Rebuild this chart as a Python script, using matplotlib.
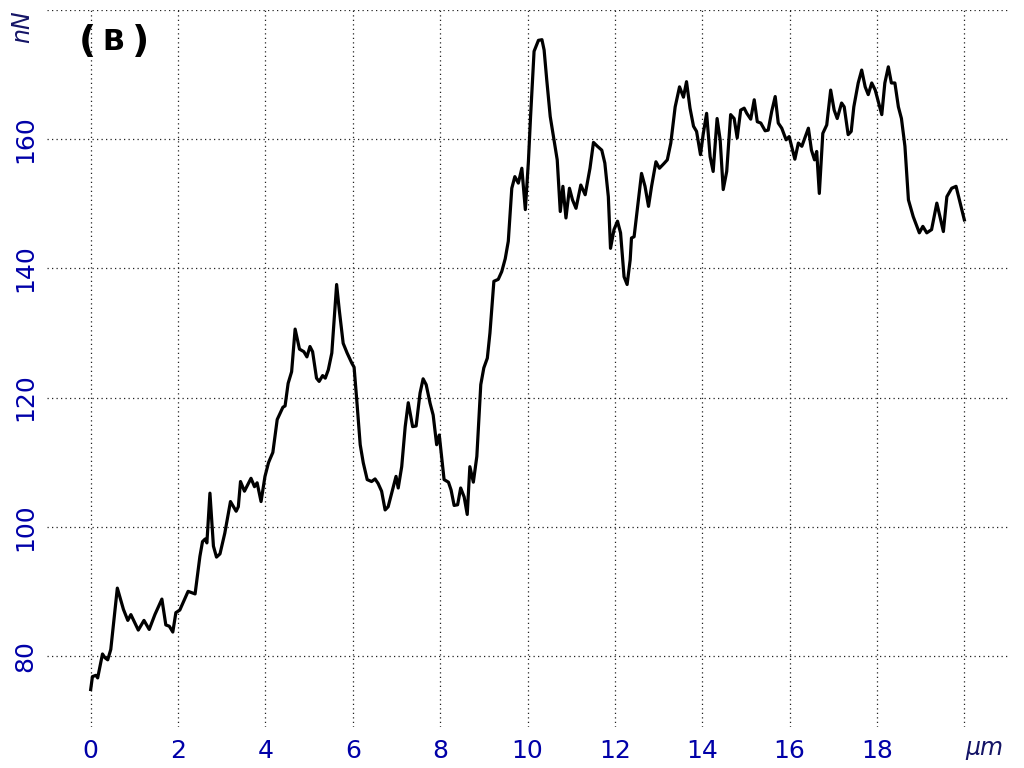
import matplotlib
matplotlib.use('Agg')
import matplotlib.pyplot as plt
import numpy as np

# position along the scan (um) and force (nN)
x_um = [0.00, 0.04, 0.12, 0.16, 0.27, 0.33, 0.39, 0.46, 0.61, 0.75, 0.85, 0.92,
        1.09, 1.22, 1.34, 1.47, 1.63, 1.72, 1.80, 1.88, 1.95, 2.04, 2.23, 2.39,
        2.50, 2.56, 2.62, 2.66, 2.73, 2.77, 2.81, 2.88, 2.96, 3.07, 3.20, 3.33,
        3.38, 3.43, 3.52, 3.67, 3.75, 3.81, 3.90, 3.99, 4.07, 4.10, 4.17, 4.27,
        4.40, 4.45, 4.52, 4.60, 4.68, 4.78, 4.88, 4.95, 5.02, 5.08, 5.17, 5.23,
        5.31, 5.37, 5.44, 5.52, 5.63, 5.69, 5.78, 5.87, 5.98, 6.03, 6.09, 6.17,
        6.24, 6.33, 6.43, 6.51, 6.58, 6.66, 6.74, 6.81, 6.93, 6.99, 7.04, 7.12,
        7.20, 7.27, 7.37, 7.45, 7.54, 7.61, 7.68, 7.77, 7.84, 7.92, 7.98, 8.04,
        8.09, 8.19, 8.25, 8.32, 8.40, 8.47, 8.55, 8.62, 8.68, 8.76, 8.84, 8.93,
        9.00, 9.08, 9.14, 9.23, 9.33, 9.41, 9.49, 9.56, 9.64, 9.71, 9.79, 9.87,
        9.92, 9.95, 10.02, 10.07, 10.15, 10.25, 10.33, 10.38, 10.44, 10.52, 10.63, 10.68,
        10.75, 10.81, 10.88, 10.96, 11.03, 11.11, 11.22, 11.32, 11.43, 11.51, 11.60, 11.70,
        11.77, 11.85, 11.90, 11.98, 12.06, 12.13, 12.21, 12.28, 12.35, 12.38, 12.44, 12.54,
        12.61, 12.69, 12.77, 12.84, 12.94, 13.02, 13.12, 13.20, 13.28, 13.38, 13.48, 13.57,
        13.64, 13.72, 13.80, 13.87, 13.96, 14.02, 14.10, 14.18, 14.25, 14.34, 14.41, 14.48,
        14.56, 14.65, 14.73, 14.80, 14.88, 14.96, 15.02, 15.11, 15.19, 15.26, 15.34, 15.44,
        15.51, 15.59, 15.67, 15.74, 15.82, 15.92, 15.99, 16.12, 16.20, 16.28, 16.35, 16.43,
        16.50, 16.57, 16.62, 16.68, 16.76, 16.85, 16.94, 17.02, 17.09, 17.19, 17.25, 17.34,
        17.41, 17.47, 17.57, 17.65, 17.73, 17.80, 17.88, 17.96, 18.03, 18.11, 18.18, 18.26,
        18.33, 18.41, 18.49, 18.56, 18.64, 18.72, 18.83, 18.97, 19.05, 19.14, 19.25, 19.37,
        19.52, 19.60, 19.71, 19.81, 20.00]

force_nN = [74.8, 76.8, 77.0, 76.6, 80.3, 79.7, 79.4, 81.0, 90.5, 87.2, 85.5, 86.4,
            84.0, 85.5, 84.1, 86.4, 88.8, 84.8, 84.6, 83.7, 86.7, 87.1, 90.0, 89.6,
            95.4, 97.7, 98.1, 97.5, 105.2, 101.1, 97.0, 95.3, 95.8, 99.0, 103.9, 102.4,
            103.1, 107.0, 105.5, 107.5, 106.2, 106.8, 103.9, 107.8, 109.9, 110.4, 111.5, 116.6,
            118.5, 118.7, 122.2, 124.0, 130.6, 127.5, 127.1, 126.3, 127.9, 127.1, 123.0, 122.5,
            123.4, 123.0, 124.3, 126.9, 137.5, 133.6, 128.4, 126.9, 125.3, 124.7, 119.7, 112.7,
            109.9, 107.3, 107.0, 107.4, 106.7, 105.5, 102.6, 103.1, 106.2, 107.8, 106.0, 109.3,
            115.5, 119.2, 115.5, 115.6, 120.7, 122.9, 122.0, 119.1, 117.3, 112.7, 114.2, 110.4,
            107.3, 106.9, 105.7, 103.3, 103.4, 106.0, 104.6, 101.9, 109.3, 106.9, 110.9, 122.0,
            124.6, 126.1, 130.0, 138.0, 138.3, 139.5, 141.5, 144.2, 152.4, 154.2, 153.2, 155.5,
            151.6, 149.1, 156.5, 163.5, 173.6, 175.3, 175.4, 173.8, 169.2, 163.5, 158.9, 156.8,
            148.8, 152.7, 147.8, 152.4, 150.6, 149.3, 152.9, 151.4, 155.5, 159.5, 158.9, 158.3,
            156.3, 151.1, 143.1, 146.0, 147.3, 145.5, 138.7, 137.5, 141.3, 144.7, 144.9, 150.6,
            154.7, 152.7, 149.6, 152.7, 156.5, 155.5, 156.2, 156.8, 159.4, 165.0, 168.1, 166.5,
            168.9, 164.8, 162.0, 161.2, 157.6, 160.7, 164.0, 157.3, 155.0, 163.2, 159.9, 152.2,
            155.0, 163.8, 163.2, 160.2, 164.5, 164.8, 164.0, 163.1, 166.1, 162.7, 162.5, 161.3,
            161.4, 164.3, 166.6, 162.5, 161.7, 159.9, 160.4, 156.9, 159.4, 158.9, 160.2, 161.7,
            158.3, 156.8, 158.1, 151.6, 160.9, 162.2, 167.6, 164.5, 163.2, 165.6, 165.0, 160.7,
            161.2, 165.0, 168.7, 170.7, 168.1, 166.9, 168.7, 167.6, 165.8, 163.8, 168.7, 171.2,
            168.7, 168.7, 165.0, 163.2, 158.9, 150.6, 148.0, 145.5, 146.5, 145.5, 146.0, 150.1,
            145.7, 151.1, 152.4, 152.7, 147.5]

x_ticks = [0, 2, 4, 6, 8, 10, 12, 14, 16, 18, 20]
x_tick_labels = ['0', '2', '4', '6', '8', '10', '12', '14', '16', '18', '']
y_ticks = [80, 100, 120, 140, 160, 180]
y_tick_labels = ['80', '100', '120', '140', '160', '']

tick_color = '#0000a8'
unit_color = '#141466'

fig = plt.figure(figsize=(10.24, 7.68), dpi=100)
ax = fig.add_axes([0.0459, 0.0534, 0.9385, 0.9336])

ax.plot(x_um, force_nN, color='black', linewidth=2.3)

ax.set_xlim(-1, 21)
ax.set_ylim(69, 180)
ax.set_xticks(x_ticks)
ax.set_xticklabels(x_tick_labels)
ax.set_yticks(y_ticks)
ax.set_yticklabels(y_tick_labels, rotation=90, va='center')

ax.tick_params(axis='both', length=0, labelsize=18, labelcolor=tick_color)
ax.tick_params(axis='x', pad=9)
ax.tick_params(axis='y', pad=7)

for side in ['top', 'right', 'bottom', 'left']:
    ax.spines[side].set_visible(False)

ax.grid(True, linestyle=(0, (1, 2.6)), color='#222222', linewidth=0.9)
ax.set_axisbelow(True)

# unit labels sit where the last tick labels would be
fig.text(0.0215, 0.965, 'nN', rotation=90, fontsize=17, style='italic',
         color=unit_color, ha='center', va='center')
fig.text(0.961, 0.026, 'μm', fontsize=17, style='italic',
         color=unit_color, ha='center', va='center')

# panel tag
fig.text(0.085, 0.945, '(', fontsize=27, fontweight='bold', ha='center', va='center')
fig.text(0.1105, 0.945, 'B', fontsize=21, fontweight='heavy', ha='center', va='center')
fig.text(0.137, 0.945, ')', fontsize=27, fontweight='bold', ha='center', va='center')

plt.savefig('out.png', dpi=100)
print("Chart saved!")
